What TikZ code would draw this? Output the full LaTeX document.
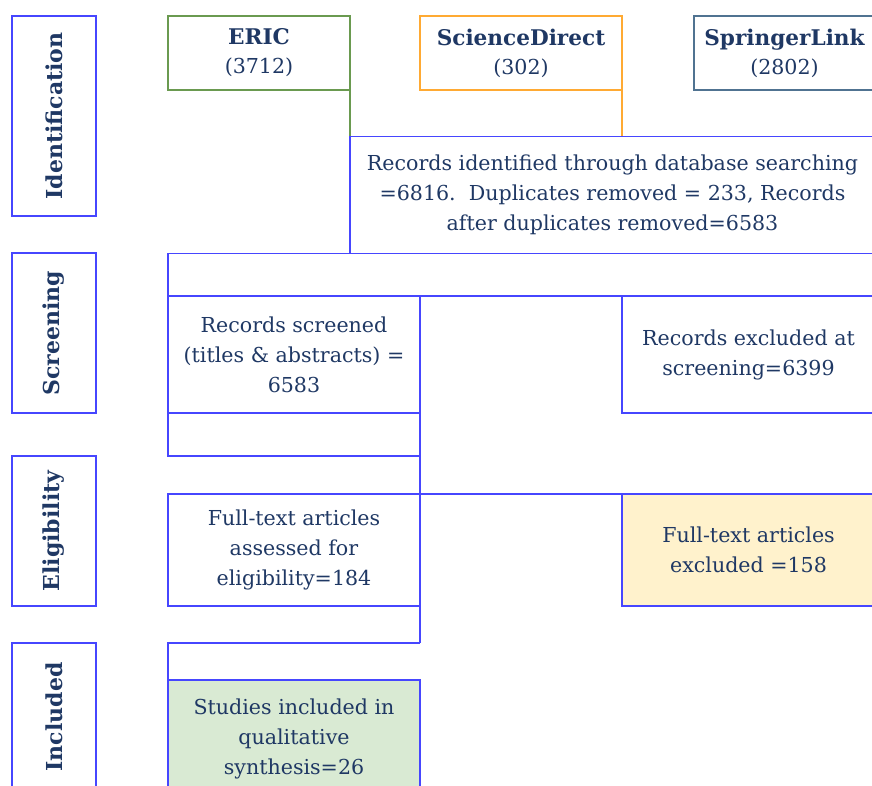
\documentclass[tikz,border=0pt]{standalone}
\usepackage{fontspec}
\setmainfont{DejaVu Serif}
\definecolor{boxblue}{RGB}{70,70,255}
\definecolor{textnavy}{RGB}{31,56,100}
\definecolor{ericgreen}{RGB}{106,154,80}
\definecolor{sdorange}{RGB}{255,170,51}
\definecolor{springblue}{RGB}{80,115,145}
\definecolor{exclfill}{RGB}{255,242,204}
\definecolor{inclfill}{RGB}{217,234,211}
\begin{document}
\begin{tikzpicture}[x=1pt, y=-1pt,
    every node/.style={draw=boxblue, line width=1.2pt, text=textnavy, align=center, inner sep=0pt,
      outer sep=0pt, font=\fontsize{20.6}{30}\selectfont},
    stage/.style={rotate=90, minimum height=84pt, font=\fontsize{22}{30}\selectfont\bfseries},
    source/.style={minimum height=74pt, font=\fontsize{20.6}{29}\selectfont},
    flow/.style={draw=boxblue, line width=1.2pt}]
    \clip (0,0) rectangle (872,786);
    % stages
    \node[stage, minimum width=200pt] (ident) at (54,116) {Identification};
    \node[stage, minimum width=160pt] (screen) at (54,333) {Screening};
    \node[stage, minimum width=150pt] (elig) at (54,531) {Eligibility};
    \node[stage, minimum width=148pt] (incl) at (54,717) {Included};
    % databases
    \node[source, draw=ericgreen, minimum width=182pt] (eric) at (259,53) {{\fontsize{21.6}{29}\selectfont\bfseries ERIC}\\(3712)};
    \node[source, draw=sdorange, minimum width=202pt] (sd) at (521,53) {{\fontsize{21.6}{29}\selectfont\bfseries ScienceDirect}\\(302)};
    \node[source, draw=springblue, minimum width=181pt] (springer) at (784.5,53) {{\fontsize{21.6}{29}\selectfont\bfseries SpringerLink}\\(2802)};
    % flow boxes
    \node[minimum width=525pt, minimum height=117pt] (records) at (612.5,195)
        {Records identified through database searching\\=6816.\ \ Duplicates removed = 233, Records\\after duplicates removed=6583};
    \node[minimum width=252pt, minimum height=117pt] (screened) at (294,354.5)
        {Records screened\\(titles \& abstracts) =\\6583};
    \node[minimum width=253pt, minimum height=117pt] (excluded) at (748.5,354.5)
        {Records excluded at\\screening=6399};
    \node[minimum width=252pt, minimum height=112pt] (assessed) at (294,550)
        {Full-text articles\\assessed for\\eligibility=184};
    \node[fill=exclfill, minimum width=253pt, minimum height=112pt] (fulltextexcl) at (748.5,550)
        {Full-text articles\\excluded =158};
    \node[fill=inclfill, minimum width=252pt, minimum height=118pt] (studies) at (294,739)
        {Studies included in\\qualitative\\synthesis=26};
    \coordinate (j1) at (420,456);
    \coordinate (j2) at (420,643);
    % connectors
    \draw[ericgreen, line width=1.2pt] (eric.south east) -- (records.north west);
    \draw[sdorange, line width=1.2pt] (sd.south east) -- (sd.south east |- records.north);
    \draw[flow] (records.south west) -| (screened.north west);
    \draw[flow] (screened.north east) -- (excluded.north west);
    \draw[flow] (screened.south west) |- (j1) -- (screened.south east);
    \draw[flow] (screened.south east) -- (j2);
    \draw[flow] (assessed.north east) -- (fulltextexcl.north west);
    \draw[flow] (j2) -| (studies.north west);
\end{tikzpicture}
\end{document}
